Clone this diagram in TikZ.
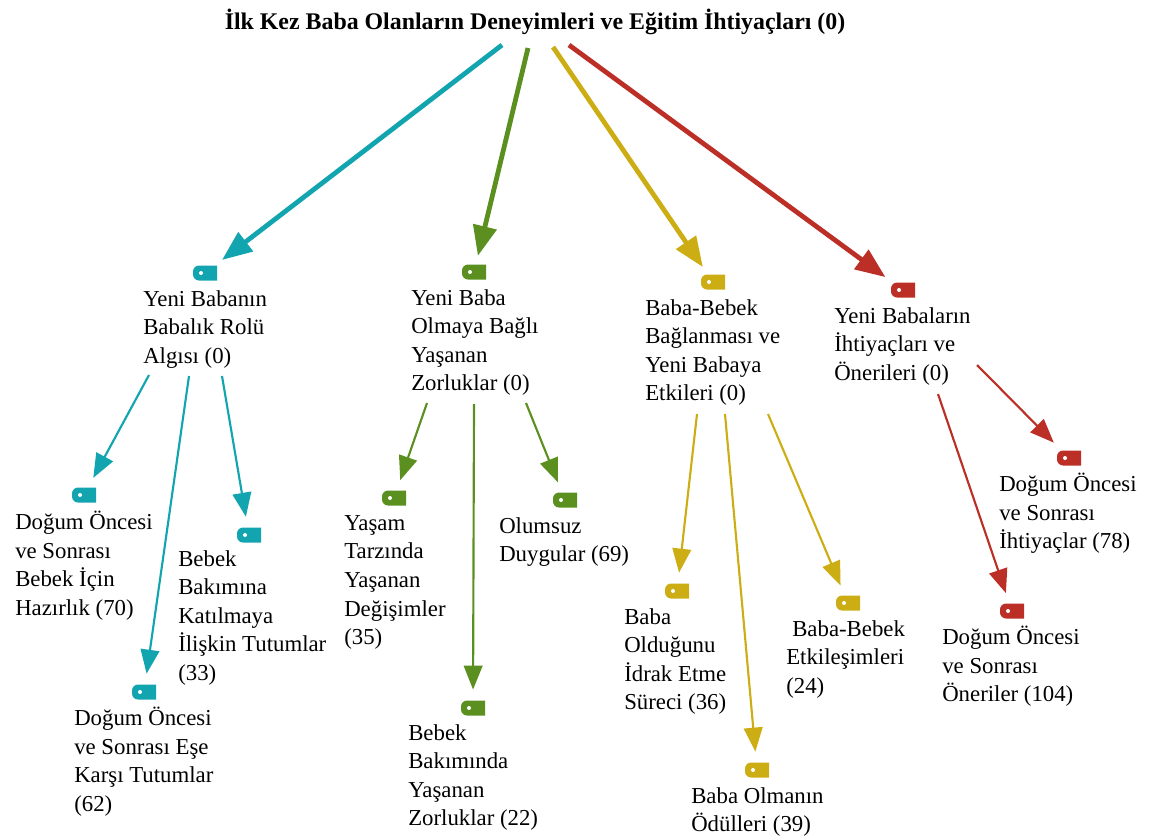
\documentclass[tikz,border=0pt]{standalone}
\usepackage{fontspec}
\setmainfont{Liberation Serif}
\usetikzlibrary{arrows.meta}

\definecolor{kodteal}{HTML}{12A5B0}
\definecolor{kodgreen}{HTML}{5B9021}
\definecolor{kodyellow}{HTML}{CDAD14}
\definecolor{kodred}{HTML}{BC2F26}

\tikzset{
	tagmark/.style={minimum width=18pt,minimum height=11.25pt,inner sep=0pt,
		path picture={
			\fill[#1,rounded corners=4.5pt] (path picture bounding box.south west) rectangle ([xshift=6pt]path picture bounding box.north east);
			\fill[white] ([xshift=6pt]path picture bounding box.west) circle (1.5pt);
		}},
	codetext/.style={anchor=north west,align=left,inner sep=0pt,font=\fontsize{17.1pt}{21.45pt}\selectfont,execute at begin node=\strut},
	mainarrow/.style={line width=3.6pt,shorten >=6.5pt,-{Triangle[length=22.5pt,width=17.5pt]},#1},
	subarrow/.style={line width=1.6pt,shorten >=8pt,-{Triangle[length=18pt,width=14pt]},#1}
}

\begin{document}
\begin{tikzpicture}[x=0.75pt,y=-0.75pt]
	\useasboundingbox (0,0) rectangle (1151,839);

	\node[font=\fontsize{17.9pt}{20pt}\selectfont\bfseries] (title) at (535,22) {İlk Kez Baba Olanların Deneyimleri ve Eğitim İhtiyaçları (0)};

	\node[tagmark=kodteal] (t_rol) at (205,273) {};
	\node[tagmark=kodteal] (t_haz) at (84,495) {};
	\node[tagmark=kodteal] (t_tut) at (249,535) {};
	\node[tagmark=kodteal] (t_ese) at (144,692) {};
	\node[tagmark=kodgreen] (t_zor) at (474,272) {};
	\node[tagmark=kodgreen] (t_yas) at (394,498) {};
	\node[tagmark=kodgreen] (t_olm) at (565,500) {};
	\node[tagmark=kodgreen] (t_bak) at (473,708) {};
	\node[tagmark=kodyellow] (t_bag) at (713,282) {};
	\node[tagmark=kodyellow] (t_idr) at (677,591) {};
	\node[tagmark=kodyellow] (t_etk) at (848,603) {};
	\node[tagmark=kodyellow] (t_odu) at (757,770) {};
	\node[tagmark=kodred] (t_ihr) at (903,290) {};
	\node[tagmark=kodred] (t_ith) at (1069,458) {};
	\node[tagmark=kodred] (t_one) at (1012,611) {};

	\node[codetext] (l_rol) at (143,290) {Yeni Babanın\\Babalık Rolü\\Algısı (0)};
	\node[codetext] (l_zor) at (411,289) {Yeni Baba\\Olmaya Bağlı\\Yaşanan\\Zorluklar (0)};
	\node[codetext] (l_bag) at (645,299) {Baba-Bebek\\Bağlanması ve\\Yeni Babaya\\Etkileri (0)};
	\node[codetext] (l_ihr) at (834,307) {Yeni Babaların\\İhtiyaçları ve\\Önerileri (0)};
	\node[codetext] (l_haz) at (15,511) {Doğum Öncesi\\ve Sonrası\\Bebek İçin\\Hazırlık (70)};
	\node[codetext] (l_tut) at (178,550) {Bebek\\Bakımına\\Katılmaya\\İlişkin Tutumlar\\(33)};
	\node[codetext] (l_ese) at (74,707) {Doğum Öncesi\\ve Sonrası Eşe\\Karşı Tutumlar\\(62)};
	\node[codetext] (l_yas) at (344,515) {Yaşam\\Tarzında\\Yaşanan\\Değişimler\\(35)};
	\node[codetext] (l_olm) at (499,517) {Olumsuz\\Duygular (69)};
	\node[codetext] (l_bak) at (408,724) {Bebek\\Bakımında\\Yaşanan\\Zorluklar (22)};
	\node[codetext] (l_idr) at (624,608) {Baba\\Olduğunu\\İdrak Etme\\Süreci (36)};
	\node[codetext] (l_etk) at (786,620) {\hspace*{4.5pt}Baba-Bebek\\Etkileşimleri\\(24)};
	\node[codetext] (l_odu) at (691,787) {Baba Olmanın\\Ödülleri (39)};
	\node[codetext] (l_ith) at (999,473) {Doğum Öncesi\\ve Sonrası\\İhtiyaçlar (78)};
	\node[codetext] (l_one) at (942,626) {Doğum Öncesi\\ve Sonrası\\Öneriler (104)};

	\coordinate (c_rol) at (502,45);
	\coordinate (c_zor) at (528,48);
	\coordinate (c_bag) at (553,47);
	\coordinate (c_ihr) at (569,45);
	\coordinate (c_haz) at (149,375);
	\coordinate (c_ese) at (189,376);
	\coordinate (c_tut) at (222,376);
	\coordinate (c_yas) at (427,403);
	\coordinate (c_bak) at (474,404);
	\coordinate (c_olm) at (526,403);
	\coordinate (c_idr) at (697,414);
	\coordinate (c_odu) at (725,414);
	\coordinate (c_etk) at (768,414);
	\coordinate (c_one) at (938,394);
	\coordinate (c_ith) at (977,365);

	\path
	(c_rol) edge [mainarrow=kodteal] (t_rol)
	(c_zor) edge [mainarrow=kodgreen] (t_zor)
	(c_bag) edge [mainarrow=kodyellow] (t_bag)
	(c_ihr) edge [mainarrow=kodred] (t_ihr)

	(c_haz) edge [subarrow=kodteal] (t_haz)
	(c_ese) edge [subarrow=kodteal] (t_ese)
	(c_tut) edge [subarrow=kodteal] (t_tut)

	(c_yas) edge [subarrow=kodgreen] (t_yas)
	(c_bak) edge [subarrow=kodgreen] (t_bak)
	(c_olm) edge [subarrow=kodgreen] (t_olm)

	(c_idr) edge [subarrow=kodyellow] (t_idr)
	(c_odu) edge [subarrow=kodyellow] (t_odu)
	(c_etk) edge [subarrow=kodyellow] (t_etk)

	(c_one) edge [subarrow=kodred] (t_one)
	(c_ith) edge [subarrow=kodred] (t_ith);
\end{tikzpicture}
\end{document}
